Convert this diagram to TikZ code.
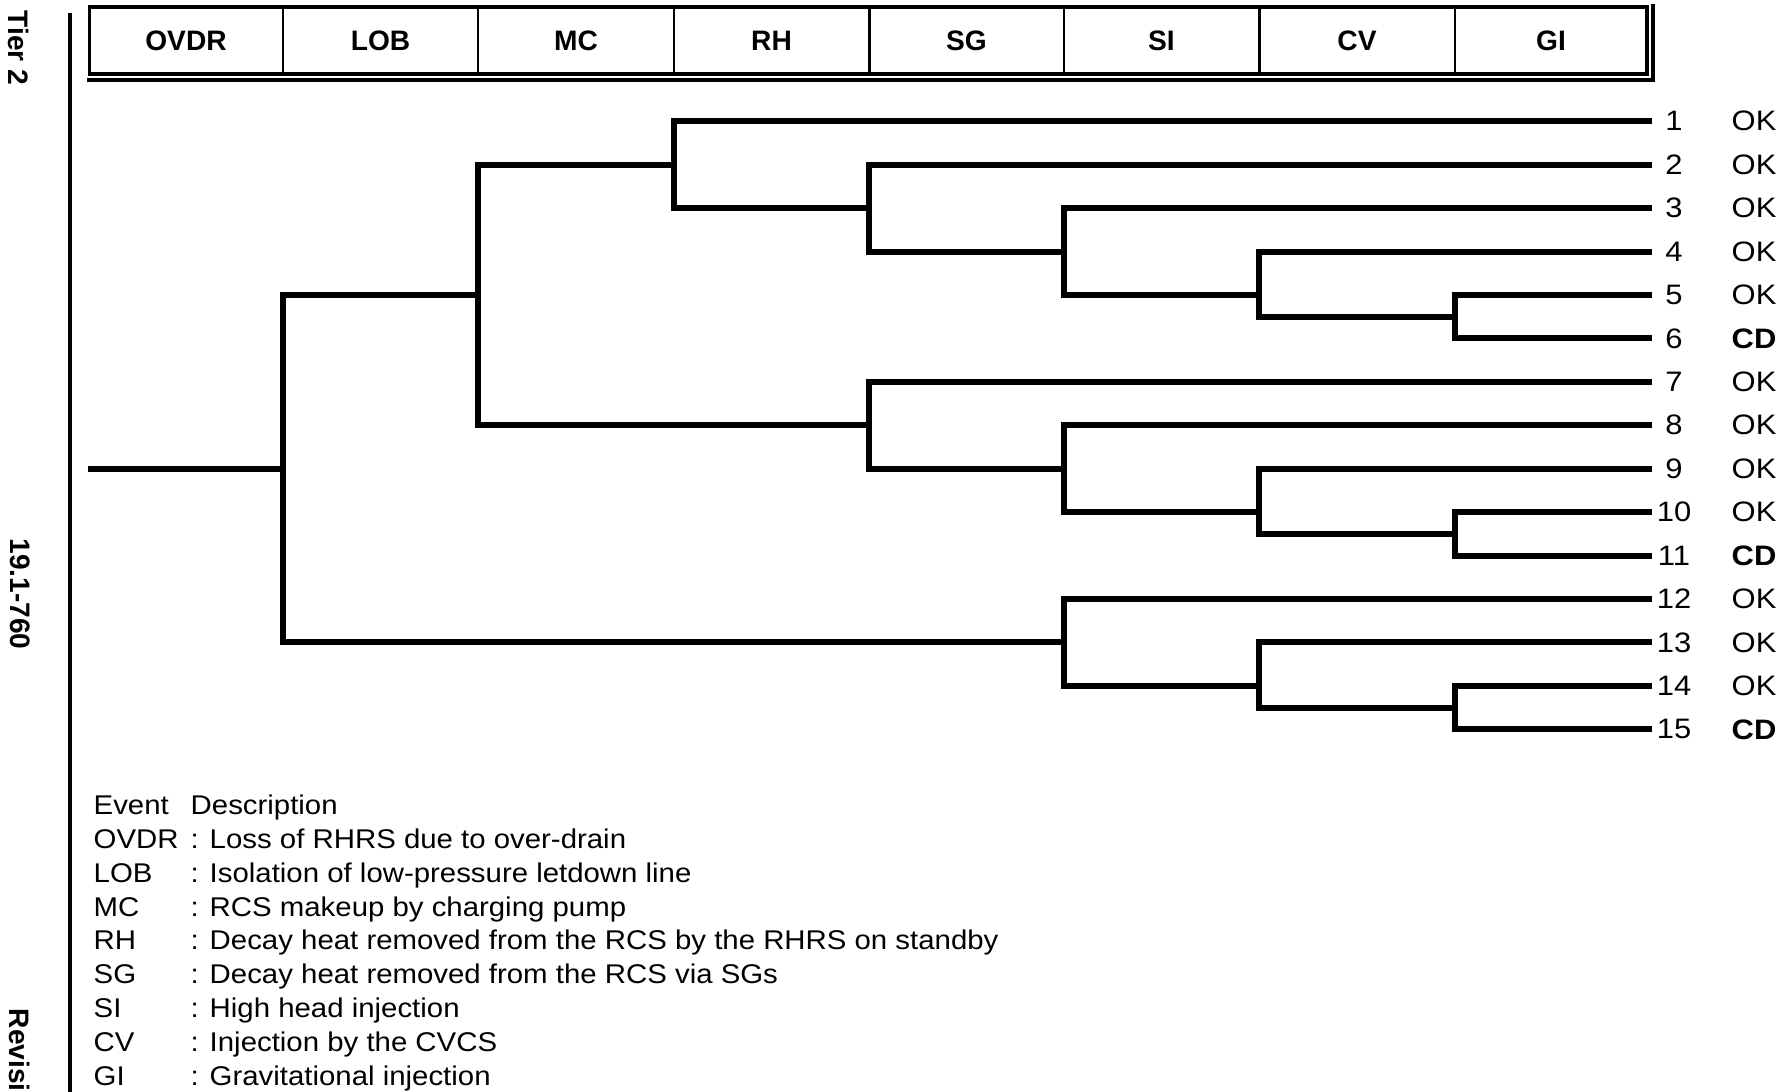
\documentclass[tikz,border=0pt]{standalone}
\usepackage{fontspec}
\setmainfont{Liberation Sans}
\newfontfamily\legendfont{Liberation Sans}[FakeStretch=1.085]
\newfontfamily\endfont{Liberation Sans}[FakeStretch=1.1]
% one fork of the event tree: column, upper row, upper end, lower row, lower end
\newcommand\forkat[5]{\draw[branch] (#3 |- #2) -- (#1 |- #2) -- (#1 |- #4) -- (#5 |- #4);}
\begin{document}
\begin{tikzpicture}[x=0.01cm,y=-0.01cm,
  branch/.style={line width=1.7pt, line join=miter, line cap=butt},
  frame/.style={line width=0.9pt},
  divider/.style={line width=0.8pt},
  head/.style={font=\fontsize{8}{9.6}\selectfont\bfseries, inner sep=0},
  side/.style={font=\fontsize{8}{9.6}\selectfont\bfseries, rotate=-90, inner sep=0},
  seqno/.style={font=\endfont\fontsize{8}{9.6}\selectfont, inner sep=0},
  outcome/.style={font=\endfont\fontsize{8}{9.6}\selectfont, inner sep=0, anchor=west},
  legend/.style={font=\legendfont\fontsize{7.7}{9.2}\selectfont, inner sep=0, anchor=base west},
]
\useasboundingbox (0,0) rectangle (1779,1092);
\clip (0,0) rectangle (1779,1092);

% side margin texts and rule
\node[side, anchor=west] (tier) at (19,10) {Tier 2};
\node[side] (docno) at (20,594) {19.1-760};
\node[side, anchor=west] (rev) at (20,1008) {Revision};
\draw[frame] (70,13) -- (70,1092);

% heading box with shadow lines
\draw[frame] (89.3,7) rectangle (1647,74);
\draw[frame] (87,80) -- (1653,80) -- (1653,4);
\foreach \xd in {283,478,674,869.3,1064,1259.3,1455}
  \draw[divider] (\xd,7) -- (\xd,74);
\foreach \xc/\lab in {186/OVDR,380.5/LOB,576/MC,771.5/RH,966.5/SG,1161.5/SI,1357/CV,1551/GI}
  \node[head] (h\lab) at (\xc,41) {\lab};

% columns and rows of the tree
\coordinate (c0) at (88,0);
\coordinate (c1) at (283,0);
\coordinate (c2) at (478,0);
\coordinate (c3) at (674,0);
\coordinate (c4) at (869,0);
\coordinate (c5) at (1064,0);
\coordinate (c6) at (1259,0);
\coordinate (c7) at (1455,0);
\coordinate (ce) at (1652,0);
\coordinate (cn) at (1674,0);
\coordinate (co) at (1731,0);
\foreach \i in {1,...,15}
  \coordinate (r\i) at (0,{121.3+43.43*(\i-1)});
\coordinate (r5h) at (0,316.7);
\coordinate (r10h) at (0,533.9);
\coordinate (r14h) at (0,707.6);

% event tree
\draw[branch] (c0 |- r9) -- (c1 |- r9);
\forkat{c1}{r5}{c2}{r13}{c5}
\forkat{c2}{r2}{c3}{r8}{c4}
\forkat{c3}{r1}{ce}{r3}{c4}
\forkat{c4}{r2}{ce}{r4}{c5}
\forkat{c5}{r3}{ce}{r5}{c6}
\forkat{c6}{r4}{ce}{r5h}{c7}
\forkat{c7}{r5}{ce}{r6}{ce}
\forkat{c4}{r7}{ce}{r9}{c5}
\forkat{c5}{r8}{ce}{r10}{c6}
\forkat{c6}{r9}{ce}{r10h}{c7}
\forkat{c7}{r10}{ce}{r11}{ce}
\forkat{c5}{r12}{ce}{r14}{c6}
\forkat{c6}{r13}{ce}{r14h}{c7}
\forkat{c7}{r14}{ce}{r15}{ce}

% sequence numbers and end states
\foreach \i/\res in {1/OK,2/OK,3/OK,4/OK,5/OK,6/\textbf{CD},7/OK,8/OK,9/OK,10/OK,11/\textbf{CD},12/OK,13/OK,14/OK,15/\textbf{CD}}{
  \node[seqno] (n\i) at (cn |- r\i) {\i};
  \node[outcome] (o\i) at (co |- r\i) {\res};
}

% legend
\foreach \k/\ev/\desc in {0/Event/Description,
  1/OVDR/: Loss of RHRS due to over-drain,
  2/LOB/: Isolation of low-pressure letdown line,
  3/MC/: RCS makeup by charging pump,
  4/RH/: Decay heat removed from the RCS by the RHRS on standby,
  5/SG/: Decay heat removed from the RCS via SGs,
  6/SI/: High head injection,
  7/CV/: Injection by the CVCS,
  8/GI/: Gravitational injection}{
  \node[legend] (k\k) at (93,{814.3+33.9*\k}) {\ev};
  \node[legend] (d\k) at (190,{814.3+33.9*\k}) {\desc};
}
\end{tikzpicture}
\end{document}
